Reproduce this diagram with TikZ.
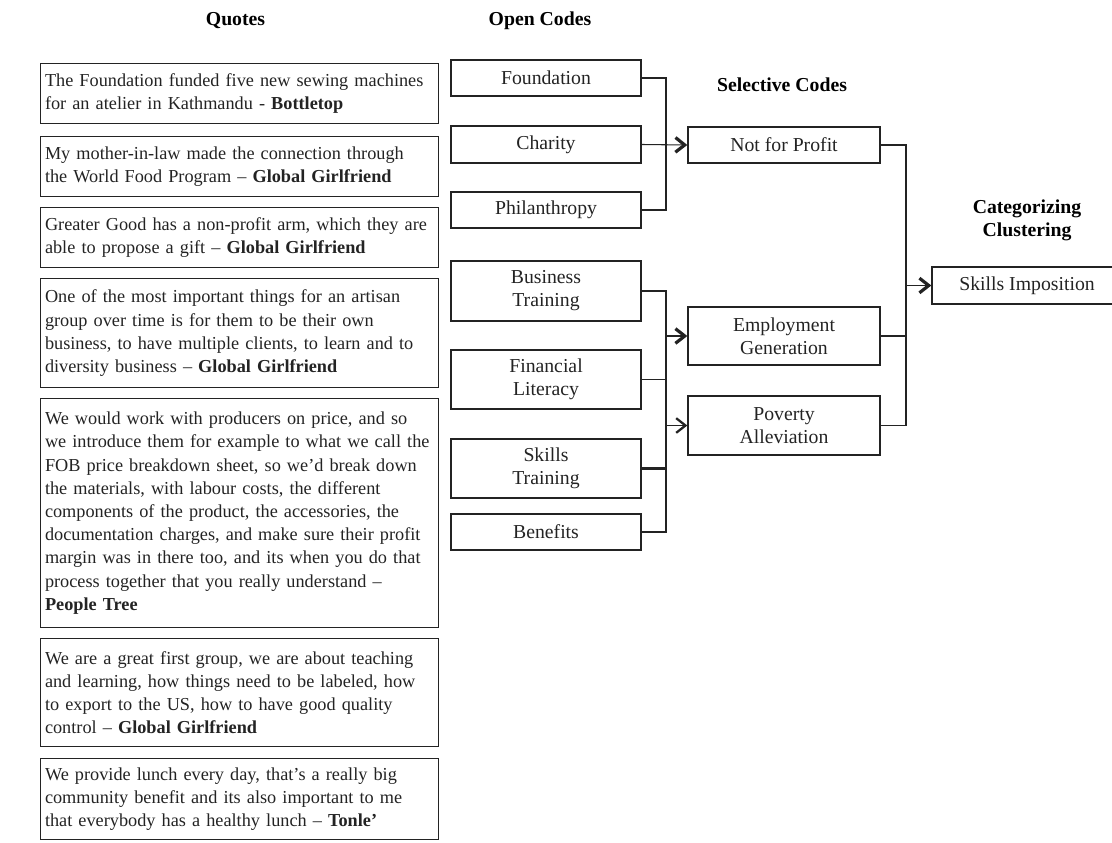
\documentclass[tikz,border=0pt]{standalone}
\usepackage{fontspec}
\setmainfont{Liberation Serif}
\usetikzlibrary{arrows.meta}
\definecolor{ink}{RGB}{35,35,35}
% lines are broken by hand; never hyphenate
\hyphenpenalty=10000\relax
\exhyphenpenalty=10000\relax

\tikzset{
  quotebox/.style={draw=ink, line width=1pt, anchor=north west, align=left,
    text width=292pt, inner xsep=3.25pt, inner ysep=0pt, text=ink,
    font=\fontsize{13.7pt}{17.4pt}\selectfont},
  codebox/.style={draw=ink, line width=1pt, align=center, minimum width=142.5pt,
    inner sep=0pt, text=ink, font=\fontsize{14.8pt}{17.3pt}\selectfont},
  header/.style={align=center, inner sep=0pt, text=black,
    font=\fontsize{14.8pt}{17.3pt}\selectfont\bfseries},
  link/.style={draw=ink, line width=0.8pt},
  strong/.style={draw=ink, line width=1.6pt},
  boldtip/.style={-{Straight Barb[length=7pt, width=11pt, line width=2.4pt 0]}},
  lighttip/.style={-{Straight Barb[length=7pt, width=11pt, line width=1.7pt 0]}}
}

\begin{document}
\begin{tikzpicture}[x=0.75pt, y=-0.75pt]
\useasboundingbox (0,0) rectangle (1112,842);
\clip (0,0) rectangle (1112,842);

% column headings
\node[header] (hq) at (235.5,21) {Quotes};
\node[header] (ho) at (540,21) {Open Codes};
\node[header] (hs) at (782,85) {Selective Codes};
\node[header] (hc) at (1027,220) {Categorizing\\Clustering};

% quotes
\node[quotebox, minimum height=45pt] (q1) at (40,63)
  {The Foundation funded five new sewing machines\\
   for an atelier in Kathmandu - \textbf{Bottletop}};
\node[quotebox, minimum height=45pt] (q2) at (40,136)
  {My mother-in-law made the connection through\\
   the World Food Program – \textbf{Global Girlfriend}};
\node[quotebox, minimum height=45pt] (q3) at (40,207)
  {Greater Good has a non-profit arm, which they are\\
   able to propose a gift – \textbf{Global Girlfriend}};
\node[quotebox, minimum height=81.75pt] (q4) at (40,278)
  {One of the most important things for an artisan\\
   group over time is for them to be their own\\
   business, to have multiple clients, to learn and to\\
   diversity business – \textbf{Global Girlfriend}};
\node[quotebox, minimum height=171.75pt] (q5) at (40,398)
  {We would work with producers on price, and so\\
   we introduce them for example to what we call the\\
   FOB price breakdown sheet, so we’d break down\\
   the materials, with labour costs, the different\\
   components of the product, the accessories, the\\
   documentation charges, and make sure their profit\\
   margin was in there too, and its when you do that\\
   process together that you really understand –\\
   \textbf{People Tree}};
\node[quotebox, minimum height=81pt] (q6) at (40,638)
  {We are a great first group, we are about teaching\\
   and learning, how things need to be labeled, how\\
   to export to the US, how to have good quality\\
   control – \textbf{Global Girlfriend}};
\node[quotebox, minimum height=60.75pt] (q7) at (40,758)
  {We provide lunch every day, that’s a really big\\
   community benefit and its also important to me\\
   that everybody has a healthy lunch – \textbf{Tonle’}};

% open codes
\node[codebox, minimum height=27pt]    (found) at (546,78)    {Foundation};
\node[codebox, minimum height=27.75pt] (char)  at (546,144.5) {Charity};
\node[codebox, minimum height=27pt]    (phil)  at (546,210)   {Philanthropy};
\node[codebox, minimum height=45pt]    (bus)   at (546,291)   {Business\\Training};
\node[codebox, minimum height=44.25pt] (fin)   at (546,379.5) {Financial\\Literacy};
\node[codebox, minimum height=44.25pt] (skl)   at (546,468.5) {Skills\\Training};
\node[codebox, minimum height=27pt]    (ben)   at (546,532)   {Benefits};

% selective codes
\node[codebox, minimum width=144pt, minimum height=27pt]    (nfp) at (784,145)   {Not for Profit};
\node[codebox, minimum width=144pt, minimum height=43.5pt]  (emp) at (784,336)   {Employment\\Generation};
\node[codebox, minimum width=144pt, minimum height=44.25pt] (pov) at (784,425.5) {Poverty\\Alleviation};

% category
\node[codebox, minimum height=27.75pt] (si) at (1027,285.5) {Skills Imposition};

% junction columns
\coordinate (jl) at (666,0);
\coordinate (jr) at (906,0);

% open codes -> Not for Profit
\draw[link] (found.east) -- (found.east -| jl) -- (phil.east -| jl) -- (phil.east);
\draw[link, boldtip] (char.east) -- (nfp.west);

% open codes -> Employment Generation / Poverty Alleviation
\draw[link] (bus.east) -- (bus.east -| jl) -- (ben.east -| jl) -- (ben.east);
\draw[link] (fin.east) -- (fin.east -| jl);
\draw[strong, boldtip] (skl.east) -- (skl.east -| jl) -- (emp.west -| jl) -- (emp.west);
\draw[link, lighttip] (pov.west -| jl) -- (pov.west);

% selective codes -> Skills Imposition
\draw[link] (nfp.east) -- (nfp.east -| jr) -- (pov.east -| jr) -- (pov.east);
\draw[link] (emp.east) -- (emp.east -| jr);
\draw[link, line width=1.2pt, boldtip] (emp.east -| jr) -- (si.west -| jr) -- (si.west);
\end{tikzpicture}
\end{document}
